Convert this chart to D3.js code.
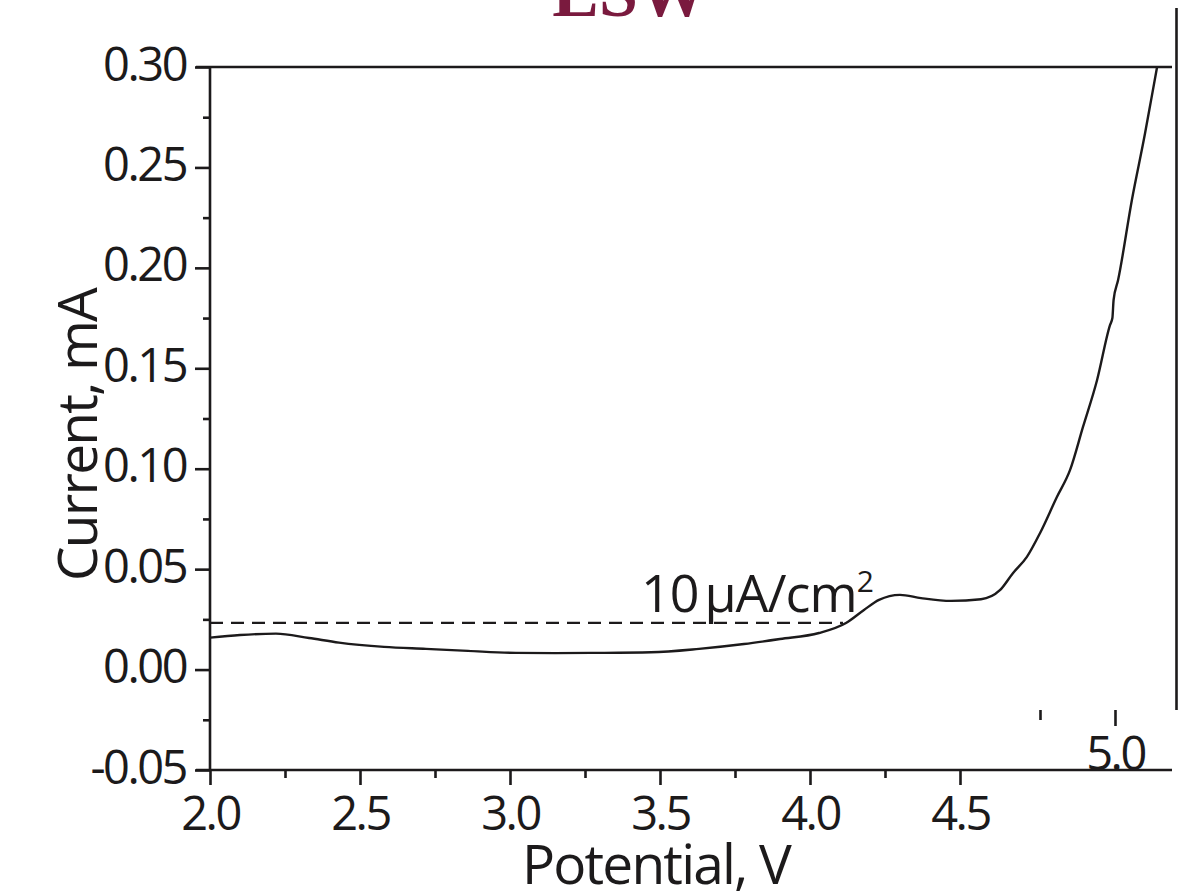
<!DOCTYPE html>
<html>
<head>
<meta charset="utf-8">
<script src="https://cdn.jsdelivr.net/npm/d3@7"></script>
<style>
  html, body { margin: 0; padding: 0; background: #fff; }
  svg { display: block; }
  text { font-family: "Open Sans", sans-serif; fill: #1c1a1b; }
</style>
</head>
<body>
<svg id="chart" width="1201" height="892"></svg>
<script>
// ---- data ----
const potential = [2.0, 2.1, 2.22, 2.33, 2.43, 2.58, 2.72, 2.86, 3.02, 3.15, 3.28, 3.47, 3.63, 3.78, 3.9, 4.03, 4.12, 4.18, 4.23, 4.3, 4.37, 4.47, 4.57, 4.633, 4.677, 4.723, 4.767, 4.823, 4.867, 4.91, 4.957, 5.0, 5.008, 5.012, 5.027, 5.073, 5.117, 5.137, 5.157];
const current   = [0.0159, 0.0172, 0.0179, 0.0157, 0.0134, 0.0113, 0.0103, 0.0093, 0.0083, 0.0082, 0.0083, 0.0086, 0.0103, 0.0127, 0.0152, 0.0182, 0.0232, 0.0297, 0.0347, 0.0372, 0.0356, 0.0342, 0.0350, 0.0395, 0.0481, 0.0561, 0.0680, 0.0859, 0.0994, 0.1208, 0.1442, 0.1715, 0.1750, 0.1840, 0.1939, 0.2338, 0.2671, 0.2835, 0.30];
const xMajorTicks = [2.0, 2.5, 3.0, 3.5, 4.0, 4.5];
const xMinorTicks = [2.25, 2.75, 3.25, 3.75, 4.25];
const yMajorTicks = [-0.05, 0.00, 0.05, 0.10, 0.15, 0.20, 0.25, 0.30];
const yMinorTicks = [-0.025, 0.025, 0.075, 0.125, 0.175, 0.225, 0.275];
const fragMajorTicks = [5.0];
const fragMinorTicks = [4.75];
const thresholdCurrent = 0.0232;
const thresholdEnd = 4.11;
const titleText = "ESW";
const xTitle = "Potential, V";
const yTitle = "Current, mA";

// ---- layout ----
const svg = d3.select("#chart");
const x = d3.scaleLinear().domain([2.0, 5.2067]).range([210, 1172]);
const y = d3.scaleLinear().domain([-0.05, 0.30]).range([770, 67]);
const ink = "#1c1a1b";

// title (cut off at top)
svg.append("text")
  .attr("x", 630).attr("y", 16)
  .attr("text-anchor", "middle")
  .style("font-family", "'Liberation Serif', serif")
  .style("font-weight", "bold")
  .style("font-size", "70px")
  .style("fill", "#7a1a3e")
  .text(titleText);

// frame lines
svg.append("line").attr("x1", 196).attr("x2", x.range()[1]).attr("y1", y(0.30)).attr("y2", y(0.30))
  .attr("stroke", ink).attr("stroke-width", 2.6);
svg.append("line").attr("x1", 196).attr("x2", x.range()[1]).attr("y1", y(-0.05)).attr("y2", y(-0.05))
  .attr("stroke", ink).attr("stroke-width", 2.6);
svg.append("line").attr("x1", x(2.0)).attr("x2", x(2.0)).attr("y1", y(0.30)).attr("y2", y(-0.05))
  .attr("stroke", ink).attr("stroke-width", 2.6);
// right vertical line (fragment of another frame)
svg.append("line").attr("x1", 1176.5).attr("x2", 1176.5).attr("y1", 8).attr("y2", 710)
  .attr("stroke", ink).attr("stroke-width", 2.6);

const tickFont = g => g.selectAll("text")
  .style("font-size", "47px").style("letter-spacing", "-2.5px").style("fill", ink)
  .style("font-family", "'Open Sans', sans-serif");

// y axis
const yMinor = svg.append("g").attr("transform", `translate(${x(2.0)},0)`)
  .call(d3.axisLeft(y).tickValues(yMinorTicks).tickSize(7).tickFormat(""));
const yMajor = svg.append("g").attr("transform", `translate(${x(2.0)},0)`)
  .call(d3.axisLeft(y).tickValues(yMajorTicks).tickSize(15).tickPadding(9).tickFormat(d3.format(".2f")));
yMajor.selectAll("text").attr("dy", 13).text(d => d3.format(".2f")(d).replace("−", "-"));
tickFont(yMajor);

// x axis
const xMinor = svg.append("g").attr("transform", `translate(0,${y(-0.05)})`)
  .call(d3.axisBottom(x).tickValues(xMinorTicks).tickSize(8).tickFormat(""));
const xMajor = svg.append("g").attr("transform", `translate(0,${y(-0.05)})`)
  .call(d3.axisBottom(x).tickValues(xMajorTicks).tickSize(15).tickFormat(d3.format(".1f")));
xMajor.selectAll("text").attr("y", 60).attr("dy", 0);
tickFont(xMajor);

// fragment axis (overlapping piece)
const fragMinor = svg.append("g").attr("transform", `translate(5,710)`)
  .call(d3.axisBottom(x).tickValues(fragMinorTicks).tickSize(10).tickFormat(""));
const fragMajor = svg.append("g").attr("transform", `translate(5,710)`)
  .call(d3.axisBottom(x).tickValues(fragMajorTicks).tickSize(16).tickFormat(d3.format(".1f")));
fragMajor.selectAll("text").attr("y", 60).attr("dy", 0);
tickFont(fragMajor);

[yMinor, yMajor, xMinor, xMajor, fragMinor, fragMajor].forEach(g => {
  g.select(".domain").remove();
  g.selectAll(".tick line").attr("stroke", ink).attr("stroke-width", 2.6);
});

// threshold dashed line
svg.append("line")
  .attr("x1", x(2.0)).attr("x2", x(thresholdEnd))
  .attr("y1", y(thresholdCurrent)).attr("y2", y(thresholdCurrent))
  .attr("stroke", ink).attr("stroke-width", 2.2)
  .attr("stroke-dasharray", "13,8");

// threshold label
const lbl = svg.append("text").attr("x", 641).attr("y", 612)
  .style("font-size", "52px").style("letter-spacing", "-1px");
lbl.append("tspan").text("10");
lbl.append("tspan").attr("dx", 6).text("µA/cm");
lbl.append("tspan").attr("dy", -20).style("font-size", "30px").text("2");

// curve
const pts = potential.map((v, i) => [v, current[i]]);
svg.append("path")
  .datum(pts)
  .attr("fill", "none")
  .attr("stroke", ink)
  .attr("stroke-width", 2.4)
  .attr("stroke-linejoin", "round")
  .attr("d", d3.line().x(d => x(d[0])).y(d => y(d[1])).curve(d3.curveMonotoneX));

// axis titles
svg.append("text")
  .attr("x", 656).attr("y", 884)
  .attr("text-anchor", "middle")
  .style("font-size", "55px").style("letter-spacing", "-1.8px")
  .text(xTitle);
svg.append("text")
  .attr("transform", "translate(97,435) rotate(-90)")
  .attr("text-anchor", "middle")
  .style("font-size", "55px").style("letter-spacing", "-1.8px")
  .text(yTitle);
</script>
</body>
</html>
